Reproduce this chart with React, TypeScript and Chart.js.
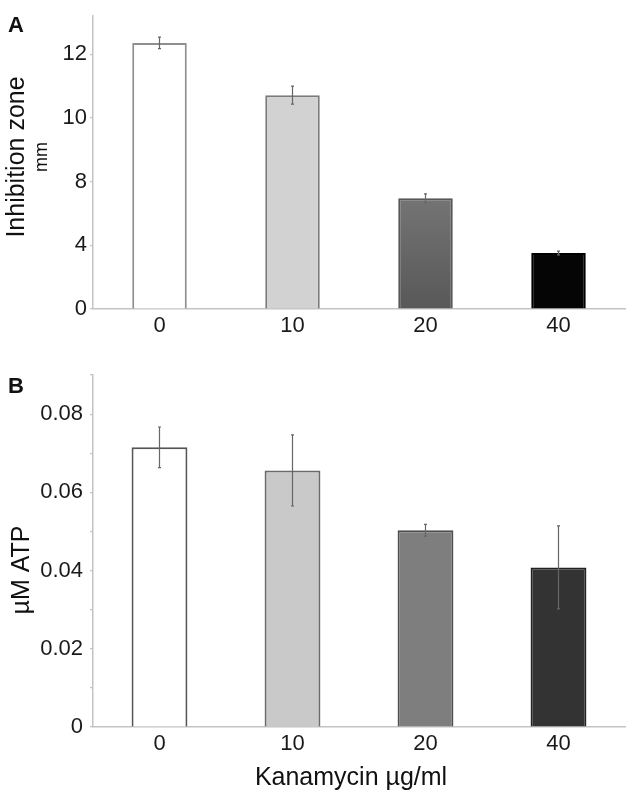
import React, { useEffect, useRef } from 'react';
import { Chart, registerables } from 'chart.js';

Chart.register(...registerables);

const FONT = '"Liberation Sans", Arial, Helvetica, sans-serif';

// Shared categories (Kanamycin µg/ml)
const categories = ['0', '10', '20', '40'];

// Panel A – inhibition zone (axis labels are evenly spaced positions)
const zoneTickPositions = [0, 1, 2, 3, 4];
const zoneTickLabels = ['0', '4', '8', '10', '12'];
const zoneValues = [4.18, 3.36, 1.74, 0.88];
const zoneErrors = [0.09, 0.14, 0.07, 0.03];
const zoneFill: (string | string[])[] = ['#ffffff', '#d2d2d2', ['#747474', '#585858'], '#050505'];
const zoneBorder = ['#8e8e8e', '#7a7a7a', '#575757', '#000000'];

// Panel B – µM ATP
const atpTickPositions = [0, 0.01, 0.02, 0.03, 0.04, 0.05, 0.06, 0.07, 0.08, 0.09];
const atpTickLabels = ['0', '', '0.02', '', '0.04', '', '0.06', '', '0.08', ''];
const atpValues = [0.0715, 0.0656, 0.0503, 0.0408];
const atpErrors = [0.0052, 0.0091, 0.0015, 0.0106];
const atpFill: (string | string[])[] = ['#ffffff', '#c9c9c9', '#7e7e7e', '#333333'];
const atpBorder = ['#555555', '#6a6a6a', '#4e4e4e', '#222222'];

type TitleLine = { text: string; size: number; x: number };

type PanelProps = {
  top: number;
  height: number;
  areaTop: number;
  areaBottom: number;
  values: number[];
  errors: number[];
  yMax: number;
  tickPositions: number[];
  tickLabels: string[];
  fills: (string | string[])[];
  borders: string[];
  barPct: number;
  yTickPad: number;
  xTickPad: number;
  letter: string;
  letterY: number;
  yTitle: TitleLine[];
  yTitleY: number;
  xTitle?: string;
  xTitleX?: number;
  xTitleY?: number;
};

function Panel(p: PanelProps) {
  const ref = useRef<HTMLCanvasElement | null>(null);

  useEffect(() => {
    const canvas = ref.current;
    if (!canvas) return;

    const overlay = {
      id: 'overlay',
      afterDatasetsDraw(chart: any) {
        const { ctx } = chart;
        const meta = chart.getDatasetMeta(0);
        const ys = chart.scales.y;
        ctx.save();
        ctx.strokeStyle = '#666666';
        ctx.lineWidth = 1.2;
        meta.data.forEach((bar: any, i: number) => {
          const v = p.values[i];
          const e = p.errors[i];
          const yT = ys.getPixelForValue(v + e);
          const yB = ys.getPixelForValue(v - e);
          ctx.beginPath();
          ctx.moveTo(bar.x, yT);
          ctx.lineTo(bar.x, yB);
          ctx.moveTo(bar.x - 1.5, yT);
          ctx.lineTo(bar.x + 1.5, yT);
          ctx.moveTo(bar.x - 1.5, yB);
          ctx.lineTo(bar.x + 1.5, yB);
          ctx.stroke();
        });
        ctx.restore();
      },
      afterDraw(chart: any) {
        const { ctx } = chart;
        ctx.save();
        ctx.fillStyle = '#111111';
        ctx.textAlign = 'center';
        ctx.textBaseline = 'middle';
        ctx.font = `bold 22px ${FONT}`;
        ctx.fillText(p.letter, 16, p.letterY - p.top);
        p.yTitle.forEach((l) => {
          ctx.save();
          ctx.translate(l.x, p.yTitleY - p.top);
          ctx.rotate(-Math.PI / 2);
          ctx.font = `${l.size}px ${FONT}`;
          ctx.fillText(l.text, 0, 0);
          ctx.restore();
        });
        if (p.xTitle) {
          ctx.font = `25px ${FONT}`;
          ctx.fillText(p.xTitle, p.xTitleX as number, (p.xTitleY as number) - p.top);
        }
        ctx.restore();
      },
    };

    const chart = new Chart(canvas, {
      type: 'bar',
      data: {
        labels: categories,
        datasets: [
          {
            data: p.values,
            backgroundColor: (c: any) => {
              const f = p.fills[c.dataIndex];
              if (Array.isArray(f)) {
                const ys = c.chart.scales && c.chart.scales.y;
                if (!ys) return f[0];
                const g = c.chart.ctx.createLinearGradient(
                  0,
                  ys.getPixelForValue(p.values[c.dataIndex]),
                  0,
                  ys.getPixelForValue(0)
                );
                g.addColorStop(0, f[0]);
                g.addColorStop(1, f[1]);
                return g;
              }
              return f;
            },
            borderColor: p.borders,
            borderWidth: 2,
            borderSkipped: 'bottom',
            categoryPercentage: 1,
            barPercentage: p.barPct,
          },
        ],
      },
      options: {
        responsive: false,
        animation: false,
        devicePixelRatio: 1,
        layout: { padding: { top: p.areaTop, right: 9, left: 0, bottom: 0 } },
        plugins: { legend: { display: false }, tooltip: { enabled: false }, title: { display: false } },
        scales: {
          x: {
            grid: { display: false },
            border: { display: true, color: '#c4c4c4', width: 1.5 },
            ticks: { color: '#1a1a1a', font: { family: FONT, size: 22 }, padding: p.xTickPad },
            afterFit: (s: any) => {
              s.height = p.height - p.areaBottom;
            },
          },
          y: {
            min: 0,
            max: p.yMax,
            grid: { display: true, drawOnChartArea: false, drawTicks: true, tickLength: 3, color: '#c4c4c4', lineWidth: 1.2 },
            border: { display: true, color: '#c4c4c4', width: 1.5 },
            afterBuildTicks: (s: any) => {
              s.ticks = p.tickPositions.map((v) => ({ value: v }));
            },
            ticks: {
              color: '#1a1a1a',
              font: { family: FONT, size: 22 },
              padding: p.yTickPad,
              autoSkip: false,
              callback: (_v: any, i: number) => p.tickLabels[i],
            },
            afterFit: (s: any) => {
              s.width = 93;
            },
          },
        },
      },
      plugins: [overlay],
    } as any);

    return () => chart.destroy();
  }, []);

  return (
    <canvas
      ref={ref}
      width={634}
      height={p.height}
      style={{ position: 'absolute', left: 0, top: p.top, width: 634, height: p.height, display: 'block' }}
    />
  );
}

export default function App() {
  return (
    <div style={{ position: 'absolute', left: 0, top: 0, width: 634, height: 798, background: '#ffffff', overflow: 'hidden' }}>
      <Panel
        top={0}
        height={345}
        areaTop={6}
        areaBottom={309}
        values={zoneValues}
        errors={zoneErrors}
        yMax={4.6}
        tickPositions={zoneTickPositions}
        tickLabels={zoneTickLabels}
        fills={zoneFill}
        borders={zoneBorder}
        barPct={0.41}
        yTickPad={3}
        xTickPad={-4}
        letter="A"
        letterY={26}
        yTitle={[
          { text: 'Inhibition zone', size: 25, x: 17 },
          { text: 'mm', size: 18, x: 42 },
        ]}
        yTitleY={157}
      />
      <Panel
        top={345}
        height={453}
        areaTop={30}
        areaBottom={382}
        values={atpValues}
        errors={atpErrors}
        yMax={0.09}
        tickPositions={atpTickPositions}
        tickLabels={atpTickLabels}
        fills={atpFill}
        borders={atpBorder}
        barPct={0.42}
        yTickPad={7}
        xTickPad={-4}
        letter="B"
        letterY={387}
        yTitle={[{ text: 'µM ATP', size: 25, x: 22 }]}
        yTitleY={570}
        xTitle="Kanamycin µg/ml"
        xTitleX={351}
        xTitleY={778}
      />
    </div>
  );
}
